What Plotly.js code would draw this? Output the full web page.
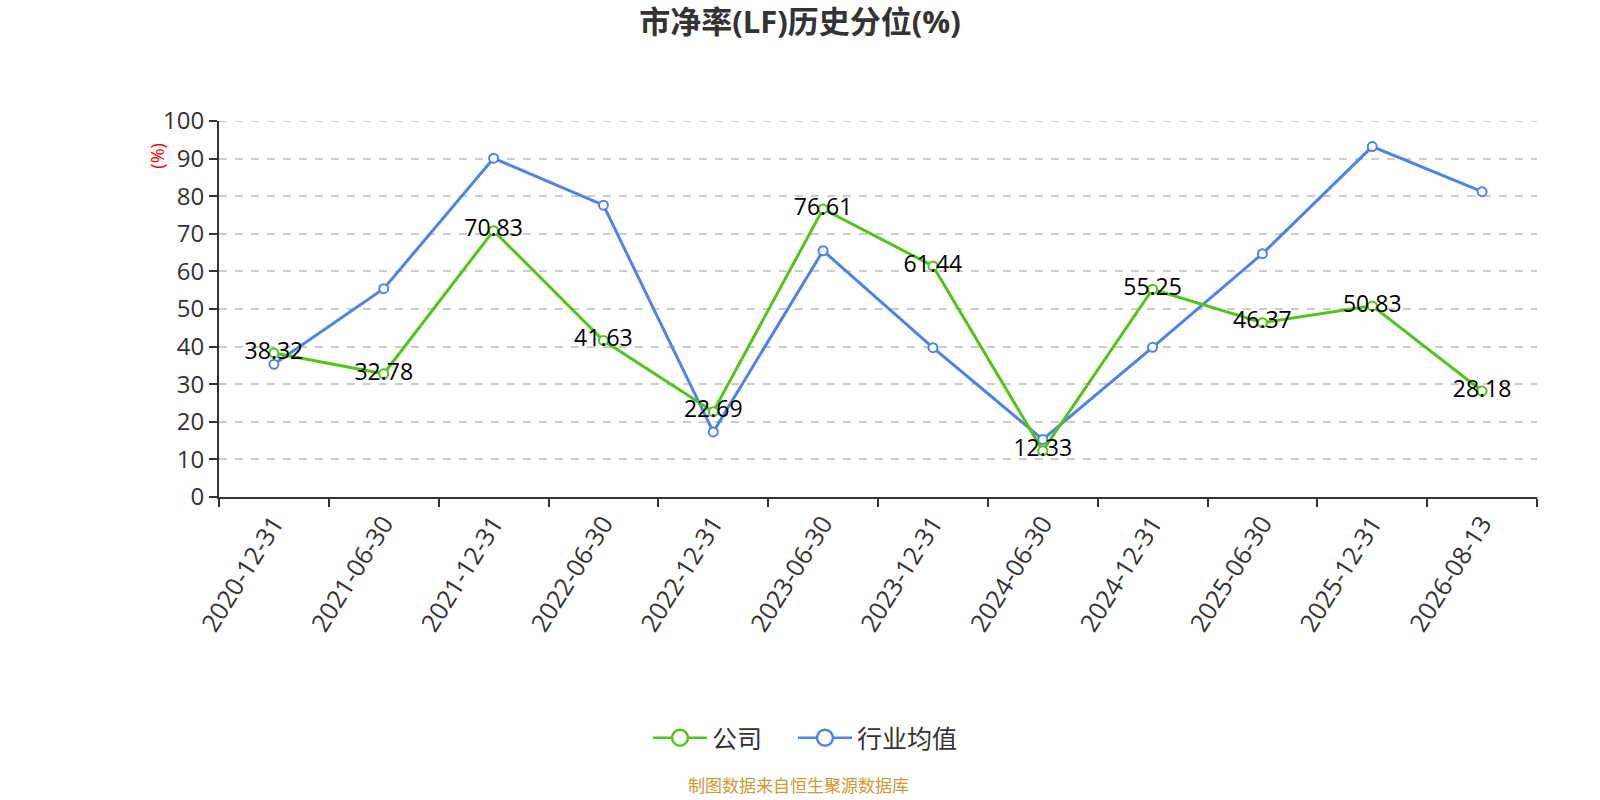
<!DOCTYPE html>
<html>
<head>
<meta charset="utf-8">
<script src="https://cdn.plot.ly/plotly-3.0.1.min.js"></script>
<style>
  html, body { margin: 0; padding: 0; background: #fff; }
  #chart { width: 1600px; height: 800px; }
</style>
</head>
<body>
<div id="chart"></div>
<script>
// report dates
const dates = [
  '2020-12-31', '2021-06-30', '2021-12-31', '2022-06-30',
  '2022-12-31', '2023-06-30', '2023-12-31', '2024-06-30',
  '2024-12-31', '2025-06-30', '2025-12-31', '2026-08-13',
];
// company PB percentile
const company = [38.32, 32.78, 70.83, 41.63, 22.69, 76.61, 61.44, 12.33, 55.25, 46.37, 50.83, 28.18];
// industry average
const industry = [35.3, 55.4, 90.1, 77.6, 17.3, 65.5, 39.7, 15.3, 39.8, 64.7, 93.2, 81.2];
// y axis ticks
const yTicks = [0, 10, 20, 30, 40, 50, 60, 70, 80, 90, 100];

const GREEN = '#52c41a';
const BLUE = '#4f84e3';
const FONT = '"Open Sans", "Noto Sans CJK SC", sans-serif';
const GRID_DASH = '8px,8px';
const PAD = '\u00a0\u00a0\u00a0\u00a0'; // extra gap between legend entries

const lineTrace = (name, y, color, withText) => ({
  type: 'scatter',
  mode: withText ? 'lines+markers+text' : 'lines+markers',
  name: name,
  x: dates,
  y: y,
  text: withText ? y.map(v => v.toFixed(2)) : undefined,
  textposition: 'middle center',
  textfont: { family: FONT, size: 23, color: '#000' },
  line: { color: color, width: 3 },
  marker: { symbol: 'circle', size: 9, color: '#fff', line: { color: color, width: 2 } },
  showlegend: false,
  hoverinfo: 'x+y',
});

// legend-only traces so the legend circles can be bigger
const legendTrace = (name, color) => ({
  type: 'scatter',
  mode: 'lines+markers',
  name: name,
  x: [null],
  y: [null],
  line: { color: color, width: 2.5 },
  marker: { symbol: 'circle', size: 20, color: '#fff', line: { color: color, width: 2.5 } },
  showlegend: true,
});

const data = [
  lineTrace('行业均值', industry, BLUE, false),
  lineTrace('公司', company, GREEN, true),
  legendTrace('公司' + PAD, GREEN),
  legendTrace('行业均值', BLUE),
];

const layout = {
  width: 1600,
  height: 800,
  margin: { l: 219, r: 63, t: 121, b: 303 },
  paper_bgcolor: '#fff',
  plot_bgcolor: '#fff',
  font: { family: FONT, color: '#333' },
  title: {
    text: '<b>市净率(LF)历史分位(%)</b>',
    font: { family: FONT, size: 31, color: '#333' },
    x: 0.5,
    xanchor: 'center',
    y: 0.972,
    yanchor: 'middle',
  },
  xaxis: {
    type: 'category',
    range: [-0.5, 11.5],
    tickson: 'boundaries',
    ticks: 'outside',
    ticklen: 8,
    tickwidth: 2,
    tickcolor: '#333',
    showline: true,
    linecolor: '#333',
    linewidth: 2,
    showgrid: false,
    zeroline: false,
    tickangle: -58,
    tickfont: { family: FONT, size: 25, color: '#333' },
  },
  yaxis: {
    range: [0, 100],
    tickvals: yTicks,
    ticks: 'outside',
    ticklen: 8,
    tickwidth: 2,
    tickcolor: '#333',
    showline: true,
    linecolor: '#333',
    linewidth: 2,
    showgrid: true,
    gridcolor: '#cccccc',
    gridwidth: 1.5,
    griddash: GRID_DASH,
    zeroline: false,
    tickfont: { family: FONT, size: 24, color: '#333' },
  },
  // plotly skips the grid line on the top edge, draw it by hand
  shapes: [{
    type: 'line',
    layer: 'below',
    xref: 'paper', x0: 0, x1: 1,
    yref: 'y', y0: yTicks[yTicks.length - 1], y1: yTicks[yTicks.length - 1],
    line: { color: '#cccccc', width: 1.5, dash: GRID_DASH },
  }],
  legend: {
    orientation: 'h',
    x: 0.3255,
    xanchor: 'left',
    y: -0.641,
    yanchor: 'middle',
    font: { family: FONT, size: 25, color: '#333' },
    itemwidth: 54,
  },
  annotations: [
    {
      text: '(%)',
      xref: 'paper', yref: 'paper',
      x: -0.047, y: 0.908,
      xanchor: 'center', yanchor: 'middle',
      textangle: -90,
      showarrow: false,
      font: { family: FONT, size: 18, color: '#ff0000' },
    },
    {
      text: '制图数据来自恒生聚源数据库',
      xref: 'paper', yref: 'paper',
      x: 0.44, y: -0.766,
      xanchor: 'center', yanchor: 'middle',
      showarrow: false,
      font: { family: FONT, size: 17, color: '#cc9933' },
    },
  ],
};

Plotly.newPlot('chart', data, layout, { displayModeBar: false });
</script>
</body>
</html>
